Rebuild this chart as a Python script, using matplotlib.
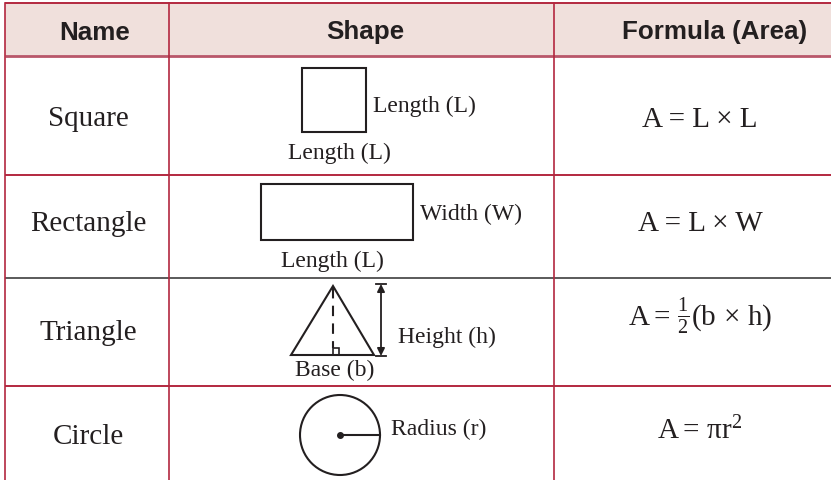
import matplotlib.pyplot as plt
from matplotlib.patches import Rectangle, Circle, Polygon

plt.rcParams['mathtext.fontset'] = 'custom'
plt.rcParams['mathtext.rm'] = 'Liberation Serif'
plt.rcParams['mathtext.it'] = 'Liberation Serif:italic'

# table content
headers = ["Name", "Shape", "Formula (Area)"]
names = ["Square", "Rectangle", "Triangle", "Circle"]
formulas = ["A = L \u00d7 L", "A = L \u00d7 W",
            r"$\mathrm{A} =\, \frac{1}{2}(\mathrm{b}\,\times\,\mathrm{h})$",
            r"$\mathrm{A} =\, \mathrm{\pi r}^{2}$"]
shape_labels = ["Length (L)", "Length (L)", "Width (W)", "Length (L)",
                "Height (h)", "Base (b)", "Radius (r)"]

# layout (pixel coordinates)
row_edges = [4, 57, 176, 279, 387]
row_colors = ["#b3283f", "#b9576a", "#b3283f", "#5a5a5a", "#b3283f"]
col_edges = [5, 169, 554]
header_x = [95, 365, 715]
name_x = 88
formula_x = 700
baselines = [126.5, 231, 340, 444]
formula_base = [127, 231, 326, 439.5]

red = "#b3283f"
ink = "#231f20"
serif = "Liberation Serif"
sans = "Liberation Sans"

fig = plt.figure(figsize=(8.31, 4.81), dpi=100)
ax = fig.add_axes([0, 0, 1, 1])
ax.set_xlim(0, 831)
ax.set_ylim(481, 0)
ax.axis('off')

# header background
ax.add_patch(Rectangle((5, 4), 831, 53, facecolor="#f0e0dc", edgecolor="none"))

# grid lines
for y, c in zip(row_edges, row_colors):
    lw = 2.0 if y == 57 else 1.4
    ax.plot([5, 831], [y, y], color=c, lw=lw, solid_capstyle='butt')
for x in col_edges:
    ax.plot([x, x], [4, 481], color=red, lw=1.2)

# header text
for x, h in zip(header_x, headers):
    ax.text(x, 39.5, h, ha='center', va='baseline', fontsize=18.7,
            fontweight='bold', family=sans, color=ink)

# names and formulas
for n, yb in zip(names, baselines):
    ax.text(name_x, yb, n, ha='center', va='baseline', fontsize=21,
            family=serif, color=ink)
for f, yb in zip(formulas, formula_base):
    ax.text(formula_x, yb, f, ha='center', va='baseline', fontsize=21,
            family=serif, color=ink)

lab = dict(fontsize=17, family=serif, color=ink, va='baseline')

# square
ax.add_patch(Rectangle((302, 69), 64, 64, fill=False, edgecolor=ink, lw=1.5))
ax.text(373, 112, shape_labels[0], ha='left', **lab)
ax.text(339.5, 159, shape_labels[1], ha='center', **lab)

# rectangle
ax.add_patch(Rectangle((261, 185), 152, 56, fill=False, edgecolor=ink, lw=1.5))
ax.text(420, 220, shape_labels[2], ha='left', **lab)
ax.text(332, 267, shape_labels[3], ha='center', **lab)

# triangle
ax.add_patch(Polygon([(291, 356), (333, 287), (374, 356)], closed=True,
                     fill=False, edgecolor=ink, lw=1.5))
ax.plot([333, 333], [289, 349], color=ink, lw=1.5, dashes=(5, 3.5))
ax.add_patch(Rectangle((333, 349), 6, 7, fill=False, edgecolor=ink, lw=1.2))
ax.annotate("", xy=(381, 285), xytext=(381, 357),
            arrowprops=dict(arrowstyle='<|-|>', color=ink, lw=1.3,
                            mutation_scale=11, shrinkA=0, shrinkB=0))
ax.plot([376, 386], [285, 285], color=ink, lw=1.3)
ax.plot([376, 386], [357, 357], color=ink, lw=1.3)
ax.text(398, 343, shape_labels[4], ha='left', **lab)
ax.text(335, 376, shape_labels[5], ha='center', **lab)

# circle
ax.add_patch(Circle((340, 436), 40, fill=False, edgecolor=ink, lw=1.5))
ax.plot([340, 380], [436, 436], color=ink, lw=1.5)
ax.plot([340], [436], 'o', color=ink, markersize=4)
ax.text(391, 435, shape_labels[6], ha='left', **lab)

fig.savefig("out.png", dpi=100, facecolor="white")
